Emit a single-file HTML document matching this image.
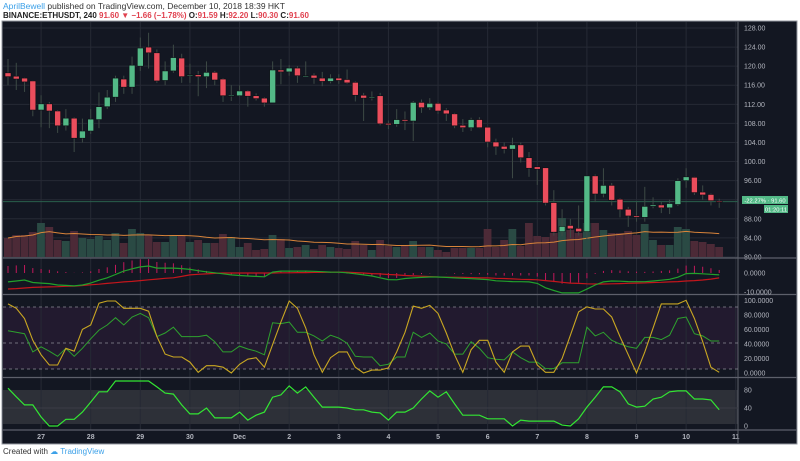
<!DOCTYPE html>
<html><head><meta charset="utf-8"><style>
body{margin:0;background:#fff;width:800px;height:461px;overflow:hidden;font-family:"Liberation Sans",sans-serif}
#hdr1{position:absolute;left:3px;top:1px;font-size:8.5px;color:#333}
#hdr2{position:absolute;left:3px;top:11px;font-size:8px;color:#222;font-weight:bold}
.r{color:#e0404e}
#foot{position:absolute;left:3px;top:447px;font-size:8px;color:#333}
</style></head><body>
<div id="hdr1"><span style="color:#3ba0e8">AprilBewell</span> published on TradingView.com, December 10, 2018 18:39 HKT</div>
<div id="hdr2">BINANCE:ETHUSDT, 240 <span class="r">91.60 ▼ −1.66 (−1.78%)</span> O:<span class="r">91.59</span> H:<span class="r">92.20</span> L:<span class="r">90.30</span> C:<span class="r">91.60</span></div>
<div id="foot">Created with <span style="color:#3ba0e8">☁ TradingView</span></div>
<svg id="c" width="800" height="461" style="position:absolute;left:0;top:0"></svg>
<script>
const opens=[118.6,117.9,117.5,116.9,110.8,112.1,110.6,107.5,109.1,104.9,106.4,108.8,111.5,113.5,117.3,115.6,120.0,124.0,122.8,117.0,119.0,121.7,118.2,118.2,117.8,118.7,117.3,113.8,113.8,114.8,113.8,113.3,112.3,119.2,118.8,119.6,118.0,118.1,117.5,116.8,117.5,117.2,116.6,113.9,113.5,113.8,108.0,107.8,108.8,108.5,112.4,111.3,112.2,110.8,110.0,107.6,107.1,108.8,107.2,104.1,103.2,102.6,103.5,100.8,98.9,98.7,91.4,85.3,86.6,86.0,85.3,97.0,93.2,95.0,92.1,90.0,88.6,88.3,90.6,90.9,90.3,91.0,96.0,96.7,93.6,93.1,91.7];
const closes=[117.8,117.3,116.7,110.8,112.1,110.6,107.5,109.1,104.9,106.4,108.9,111.5,113.5,117.5,115.6,120.2,123.8,122.8,116.9,119.0,121.8,117.8,118.2,117.8,118.7,117.1,113.8,113.9,114.8,113.7,113.2,112.3,119.2,118.8,119.6,118.0,118.0,117.5,116.8,117.5,117.0,116.5,113.9,113.3,113.5,107.9,107.7,108.8,108.5,112.4,111.3,112.2,110.6,110.0,107.5,107.1,108.8,107.1,104.1,103.1,102.6,103.5,100.8,98.6,98.4,91.3,85.2,86.4,85.9,85.3,97.0,93.2,95.0,91.9,89.9,88.6,88.3,90.6,90.9,90.3,91.2,96.0,96.8,93.5,93.0,91.8,91.6];
const highs=[121.5,120.7,117.6,117.0,113.9,112.5,110.8,111.0,109.3,109.0,111.0,114.5,115.0,118.0,118.0,122.0,126.0,127.0,123.5,121.0,124.5,122.6,120.5,119.0,121.0,119.0,117.5,116.0,116.0,115.0,114.3,113.5,121.0,121.5,120.2,120.0,121.0,118.5,118.8,118.3,118.3,119.3,116.8,114.4,114.7,114.4,108.6,111.0,110.5,112.7,113.0,113.3,112.4,111.2,110.2,108.9,109.2,109.3,107.2,104.8,104.0,105.0,104.0,102.0,98.9,98.7,94.0,90.0,88.0,90.8,97.0,97.3,98.6,95.5,92.3,90.5,91.5,94.7,92.5,91.5,92.0,96.5,98.6,96.8,95.0,93.3,92.2];
const lows=[116.0,115.0,114.6,109.5,107.2,107.0,106.0,106.5,102.0,104.0,105.8,107.0,111.0,112.5,114.2,114.2,119.0,119.5,116.5,116.0,118.6,116.5,116.5,113.7,115.4,116.0,112.5,112.7,113.7,111.5,112.8,111.5,112.3,116.2,118.0,116.5,117.8,116.3,115.8,116.4,116.3,116.3,112.6,108.5,112.8,107.6,106.8,107.3,106.6,104.3,110.2,110.8,110.0,108.5,107.0,106.2,106.4,107.0,103.0,101.4,101.7,96.5,99.8,96.8,95.1,90.8,84.5,84.4,84.0,84.5,83.8,91.5,92.5,90.8,88.3,86.3,87.4,87.4,90.2,89.2,89.0,90.7,94.5,93.0,92.0,90.8,90.3];
const volumes=[19,22,22,25,34,30,17,16,26,19,18,21,17,24,14,28,24,22,15,15,22,22,15,17,14,14,23,20,10,14,7,8,22,18,9,10,12,8,12,10,9,8,16,12,7,17,11,10,11,16,10,10,7,5,9,9,9,9,28,10,17,28,11,34,21,20,24,39,27,24,34,34,27,24,24,26,22,33,17,12,12,30,28,16,15,13,10];
const macdLine=[-4.7,-4.2,-3.7,-5.0,-5.3,-5.6,-6.3,-6.5,-6.8,-6.3,-5.3,-3.8,-2.5,-0.8,1.0,2.2,3.2,3.7,2.6,2.6,2.6,2.3,1.9,1.2,0.6,0.1,-0.4,-1.0,-1.3,-1.6,-1.8,-2.0,0.5,1.0,1.0,1.0,1.0,0.9,0.7,0.5,0.4,0.1,-0.4,-1.0,-1.6,-2.5,-3.5,-3.6,-2.9,-2.6,-2.3,-2.1,-2.1,-2.3,-2.6,-2.8,-3.0,-3.2,-3.5,-4.1,-4.3,-4.5,-4.6,-4.7,-5.5,-7.8,-9.2,-10.5,-10.5,-10.5,-8.5,-6.3,-4.7,-4.2,-4.3,-4.5,-4.6,-4.6,-4.2,-3.8,-3.3,-2.2,-0.3,-0.2,-0.4,-0.7,-1.0];
const signalLine=[-8.4,-8.2,-7.9,-7.6,-7.4,-7.3,-7.2,-7.0,-6.9,-6.6,-6.2,-5.9,-5.5,-5.1,-4.7,-4.4,-4.0,-3.6,-3.2,-2.8,-2.5,-1.8,-1.0,-0.7,-0.5,-0.2,0,0,0,0,0,0,0,0.1,0.1,0.2,0.2,0.3,0.3,0.4,0.5,0.4,0.2,0,-0.3,-0.5,-0.8,-1.0,-1.3,-1.5,-1.7,-1.9,-2.1,-2.2,-2.2,-2.3,-2.4,-2.5,-2.6,-2.8,-2.9,-3.1,-3.3,-3.4,-3.6,-4.0,-4.4,-4.9,-5.3,-5.5,-5.7,-5.8,-5.8,-5.7,-5.6,-5.4,-5.3,-5.2,-5.0,-4.9,-4.7,-4.5,-4.2,-4.0,-3.7,-3.2,-2.6];
const stochK=[95,89,75,45,25,11,11,34,30,60,66,96,99,99,89,89,89,85,50,26,22,22,15,1,10,10,8,0,12,19,21,8,39,70,99,89,62,25,1,21,29,29,8,0,4,4,7,29,56,92,89,93,82,55,25,1,32,45,45,15,1,29,37,37,11,1,1,20,52,84,91,88,88,77,50,25,0,29,62,95,95,95,100,75,43,8,1];
const stochD=[58,56,54,29,36,30,23,34,23,34,47,59,66,76,66,77,82,76,50,55,63,50,50,50,52,43,29,29,37,33,30,25,69,68,70,56,56,51,44,52,48,41,23,22,22,10,12,22,22,56,49,55,44,40,26,26,43,34,21,19,18,29,21,15,15,6,6,14,14,14,63,51,56,45,40,36,34,49,49,46,52,75,77,54,51,44,44];
const rsi=[84,65,47,47,20,0,0,15,15,31,53,76,76,100,100,100,100,100,87,73,71,47,27,27,40,18,18,18,31,13,24,31,64,69,89,73,87,64,42,42,42,40,36,36,31,29,13,31,31,40,60,78,64,76,49,24,24,24,16,16,16,0,13,11,11,11,11,2,0,16,42,64,87,87,76,49,42,44,60,64,76,78,78,60,60,58,36];
const priceTicks=[128,124,120,116,112,108,104,100,96,92,88,84,80];
const dayLabels=["27","28","29","30","Dec","2","3","4","5","6","7","8","9","10","11"];
const stochTicks=["100.0000","80.0000","60.0000","40.0000","20.0000","0.0000"];
const rsiTicks=[80,40,0];
const lastPrice=91.60;

const svg=document.getElementById('c');
const NS='http://www.w3.org/2000/svg';
const PL=3,PR=738;
const xOf=i=>8+i*8.27;
const yP=p=>28+(128-p)*4.77;
const yV=v=>257-v;
const yM=m=>273-m*1.9;
const yS=s=>373-s*0.727;
const yR=r=>426-r*0.45;
function mk(tag,attrs,parent){const e=document.createElementNS(NS,tag);for(const k in attrs)e.setAttribute(k,attrs[k]);(parent||svg).appendChild(e);return e;}
let e;
e=mk('rect',{x:2,y:21,width:795,height:423,fill:'#131722',stroke:'#9598a1','stroke-width':1});


e=mk('rect',{x:PL,y:307,width:PR-PL,height:62,fill:'#221a2f'});


e=mk('rect',{x:PL,y:390,width:PR-PL,height:34,fill:'#2d3038'});


priceTicks.forEach(p=>{
 e=mk('line',{x1:PL,x2:PR,y1:yP(p),y2:yP(p),stroke:'#262a35','stroke-width':1});
 
 
 e=mk('text',{x:744,y:yP(p)+2.5,fill:'#b2b5be','font-size':7,'font-family':'Liberation Sans'});
 e.textContent=p.toFixed(2);
 
 
});
dayLabels.forEach((d,k)=>{
 const x=xOf(4+6*k);
 if(x<PR){
  e=mk('line',{x1:x,x2:x,y1:22,y2:430,stroke:'#262a35','stroke-width':1});
  
  
 }
 e=mk('text',{x:x,y:439,fill:'#b2b5be','font-size':7,'font-weight':'bold','text-anchor':'middle','font-family':'Liberation Sans'});
 e.textContent=d;
 
 
});
[258,294.5,377.5,430].forEach(y=>{
 e=mk('line',{x1:2,x2:797,y1:y,y2:y,stroke:'#5d606b','stroke-width':1.2});
 
 
});
e=mk('line',{x1:PR,x2:PR,y1:21,y2:443,stroke:'#5d606b','stroke-width':1});


for(let i=0;i<volumes.length;i++){
 const up=closes[i]>=opens[i];
 e=mk('rect',{x:xOf(i)-4,y:yV(volumes[i]),width:7.8,height:volumes[i],fill:up?'#2a4a44':'#4c2a37'});
 
 
}
let ma='';
for(let i=0;i<volumes.length;i++){const s=volumes.slice(Math.max(0,i-19),i+1);const m=s.reduce((a,b)=>a+b,0)/s.length;ma+=(i?'L':'M')+xOf(i)+','+yV(m);}
e=mk('path',{d:ma,fill:'none',stroke:'#d9843a','stroke-width':1});


e=mk('line',{x1:PL,x2:PR,y1:yP(lastPrice),y2:yP(lastPrice),stroke:'#2a5f4c','stroke-width':1});


for(let i=0;i<opens.length;i++){
 const up=closes[i]>=opens[i];const x=xOf(i);
 e=mk('line',{x1:x,x2:x,y1:yP(highs[i]),y2:yP(lows[i]),stroke:'#3d4a45','stroke-width':1});
 
 
 const t=yP(Math.max(opens[i],closes[i])),b=yP(Math.min(opens[i],closes[i]));
 e=mk('rect',{x:x-3,y:t,width:6,height:Math.max(1,b-t),fill:up?'#53b987':'#eb4d5c',stroke:'#0d0f14','stroke-width':0.6});
 
 
}
e=mk('rect',{x:742,y:196,width:46,height:8,fill:'#53b987'});


e=mk('text',{x:765,y:202.3,fill:'#fff','font-size':5.8,'text-anchor':'middle','font-family':'Liberation Sans'});
e.textContent='-22.27% · 91.60';


e=mk('rect',{x:764,y:205,width:24,height:8,fill:'#53b987'});


e=mk('text',{x:776,y:211.3,fill:'#fff','font-size':5.8,'text-anchor':'middle','font-family':'Liberation Sans'});
e.textContent='01:20:11';


for(let i=0;i<macdLine.length;i++){
 const h=macdLine[i]-signalLine[i];
 e=mk('line',{x1:xOf(i),x2:xOf(i),y1:yM(0),y2:yM(h),stroke:'#c2185b','stroke-width':1});
 
 
}
function poly(arr,f,color,w){let d='';arr.forEach((v,i)=>{d+=(i?'L':'M')+xOf(i).toFixed(1)+','+f(v).toFixed(1);});
 return mk('path',{d:d,fill:'none',stroke:color,'stroke-width':w});}
e=poly(signalLine,yM,'#c4161c',1.2);


e=poly(macdLine,yM,'#22a12b',1.2);


[[0,'0.0000'],[-10,'-10.0000']].forEach(t=>{
 e=mk('text',{x:744,y:yM(t[0])+2.5,fill:'#b2b5be','font-size':7,'font-family':'Liberation Sans'});
 e.textContent=t[1];
 
 
});
[307,343,369].forEach(y=>{
 e=mk('line',{x1:PL,x2:PR,y1:y,y2:y,stroke:'#8a8a95','stroke-width':0.8,'stroke-dasharray':'3,3'});
 
 
});
stochTicks.forEach((t,k)=>{
 e=mk('text',{x:744,y:yS(100-20*k)+2.5,fill:'#b2b5be','font-size':7,'font-family':'Liberation Sans'});
 e.textContent=t;
 
 
});
e=poly(stochD,yS,'#2ea12e',1);


e=poly(stochK,yS,'#c9a722',1.1);


e=mk('line',{x1:PL,x2:PR,y1:yR(40),y2:yR(40),stroke:'#3a3d46','stroke-width':1});


rsiTicks.forEach(t=>{
 e=mk('text',{x:744,y:yR(t)+2.5,fill:'#b2b5be','font-size':7,'font-family':'Liberation Sans'});
 e.textContent=String(t);
 
 
});
e=poly(rsi,yR,'#33e633',1.2);


</script>
</body></html>
